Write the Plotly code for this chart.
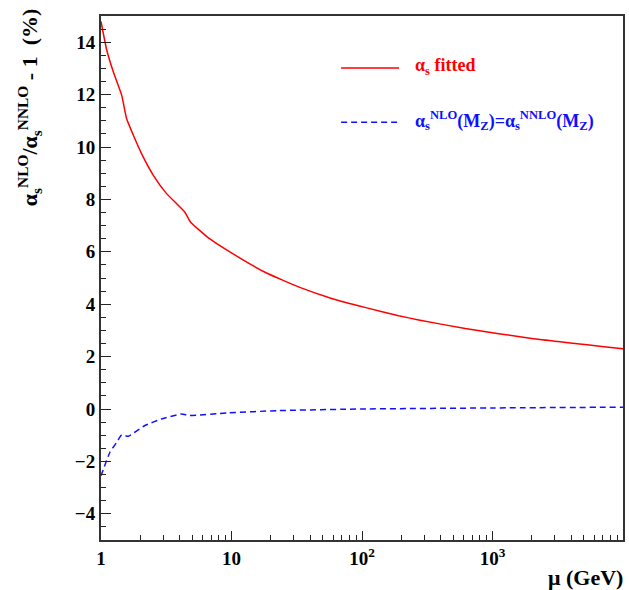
import plotly.graph_objects as go

# Scale mu (GeV) and relative difference (%) of NLO vs NNLO alpha_s
mu_fit = [1.0, 1.105, 1.24, 1.44, 1.57, 1.77, 2.10, 2.51, 3.17, 4.38, 4.84, 6.79,
          10.2, 18.4, 33, 59.3, 107, 191, 272, 618, 2000, 10000]
ratio_fit = [14.79, 13.71, 12.88, 11.98, 11.09, 10.45, 9.63, 8.93, 8.23, 7.52, 7.14, 6.50,
             5.93, 5.20, 4.65, 4.21, 3.87, 3.56, 3.40, 3.07, 2.69, 2.30]

mu_mz = [1.0, 1.17, 1.32, 1.44, 1.62, 2.17, 2.9, 4.13, 4.78, 9.4, 23, 100, 1000, 10000]
ratio_mz = [-2.55, -1.65, -1.27, -0.99, -1.04, -0.63, -0.38, -0.19, -0.25, -0.15,
            -0.06, 0.0, 0.04, 0.07]

x_tickvals = [1, 10, 100, 1000]
x_ticktext = ["1", "10", "10<sup>2</sup>", "10<sup>3</sup>"]
x_minor = [m * 10 ** d for d in range(4) for m in range(2, 10)]

label_fit = "α<sub>s</sub> fitted"
label_mz = "α<sub>s</sub><sup>NLO</sup>(M<sub>Z</sub>)=α<sub>s</sub><sup>NNLO</sup>(M<sub>Z</sub>)"
y_title = "α<sub>s</sub><sup>NLO</sup>/α<sub>s</sub><sup>NNLO</sup> - 1  (%)"
x_title = "μ (GeV)"

RED = "#ff0000"
BLUE = "#1010ff"
FONT = "Liberation Serif"

fig = go.Figure()
fig.add_trace(go.Scatter(x=mu_fit, y=ratio_fit, mode="lines",
                         line=dict(color=RED, width=1.5, shape="spline", smoothing=0.4),
                         showlegend=False))
fig.add_trace(go.Scatter(x=mu_mz, y=ratio_mz, mode="lines",
                         line=dict(color=BLUE, width=1.5, dash="6px,4px",
                                   shape="spline", smoothing=0.4),
                         showlegend=False))

# legend samples and labels
fig.add_shape(type="line", xref="paper", yref="paper", x0=0.46, x1=0.571, y0=0.901, y1=0.901,
              line=dict(color=RED, width=1.5))
fig.add_shape(type="line", xref="paper", yref="paper", x0=0.46, x1=0.571, y0=0.797, y1=0.797,
              line=dict(color=BLUE, width=1.5, dash="6px,4px"))
fig.add_annotation(xref="paper", yref="paper", x=0.598, y=0.904, xanchor="left", yanchor="middle",
                   text=label_fit, showarrow=False,
                   font=dict(family=FONT, size=18, color=RED, weight="bold"))
fig.add_annotation(xref="paper", yref="paper", x=0.598, y=0.80, xanchor="left", yanchor="middle",
                   text=label_mz, showarrow=False,
                   font=dict(family=FONT, size=18, color=BLUE, weight="bold"))

# axis titles
fig.add_annotation(xref="paper", yref="paper", x=-0.137, y=0.825, xanchor="center", yanchor="middle",
                   text=y_title, textangle=-90, showarrow=False,
                   font=dict(family=FONT, size=22, color="black", weight="bold"))
fig.add_annotation(xref="paper", yref="paper", x=1.003, y=-0.072, xanchor="right", yanchor="middle",
                   text=x_title, showarrow=False,
                   font=dict(family=FONT, size=22, color="black", weight="bold"))

fig.update_xaxes(type="log", range=[0, 4], tickmode="array", tickvals=x_tickvals,
                 ticktext=x_ticktext, ticks="inside", ticklen=9, tickwidth=1, tickcolor="#222",
                 minor=dict(tickmode="array", tickvals=x_minor, ticks="inside", ticklen=5,
                            tickwidth=1, tickcolor="#222", showgrid=False),
                 showline=True, linecolor="#333", linewidth=2, mirror=True,
                 showgrid=False, zeroline=False,
                 tickfont=dict(family=FONT, size=19, color="black", weight="bold"))
fig.update_yaxes(range=[-5, 15], tickmode="linear", tick0=0, dtick=2,
                 ticks="inside", ticklen=10, tickwidth=1, tickcolor="#222",
                 minor=dict(dtick=0.5, ticks="inside", ticklen=5, tickwidth=1,
                            tickcolor="#222", showgrid=False),
                 showline=True, linecolor="#333", linewidth=2, mirror=True,
                 showgrid=False, zeroline=False,
                 tickfont=dict(family=FONT, size=19, color="black", weight="bold"))

fig.update_layout(width=629, height=590, margin=dict(l=101, r=4, t=16, b=50),
                  paper_bgcolor="white", plot_bgcolor="white")

fig.write_html("out.html")
